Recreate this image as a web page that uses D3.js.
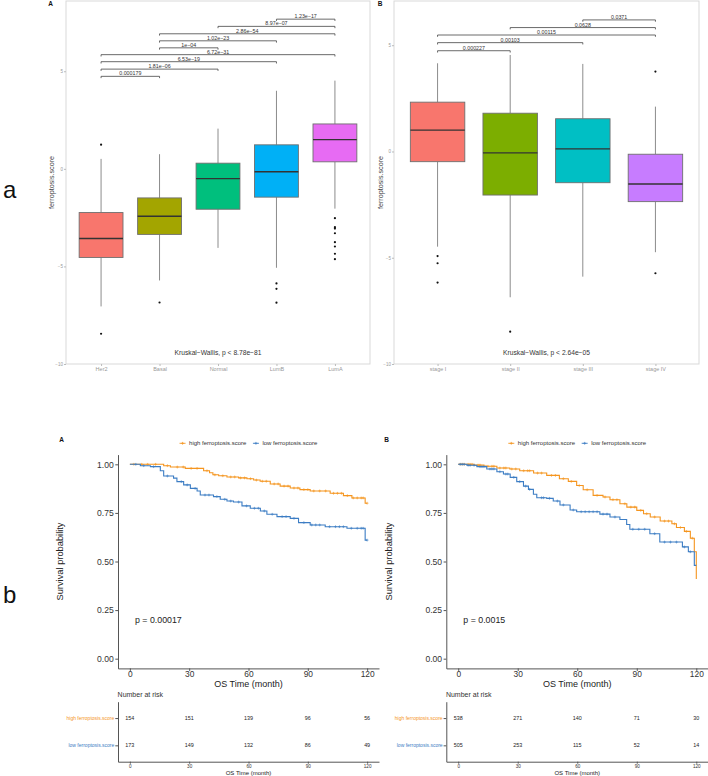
<!DOCTYPE html>
<html><head><meta charset="utf-8">
<script src="https://cdn.jsdelivr.net/npm/d3@7"></script>
<style>body{margin:0;background:#fff}svg{display:block}</style>
</head><body>
<svg id="c" width="708" height="776"></svg>
<script>
// ---------------- DATA ----------------
// Panel a-A: ferroptosis.score by PAM50 subtype
const subtypes = ["Her2","Basal","Normal","LumB","LumA"];
const subtypeColors = ["#F8766D","#A3A500","#00BF7D","#00B0F6","#E76BF3"];
const subtypeWhiskerLow = [-7.05,-5.72,-4.05,-5.07,-2.04];
const subtypeQ1 = [-4.54,-3.36,-2.07,-1.45,0.36];
const subtypeMedian = [-3.57,-2.43,-0.50,-0.15,1.50];
const subtypeQ3 = [-2.24,-1.49,0.29,1.23,2.30];
const subtypeWhiskerHigh = [0.51,0.75,2.06,4.00,4.52];
const subtypeOutliers = [[1.24,-8.45],[-6.85],[],[-5.87,-6.15,-6.86],[-2.53,-2.99,-3.06,-3.30,-3.76,-3.98,-4.35,-4.63]];
const subtypeCompFrom = ["LumB","Normal","Basal","Basal","Basal","Her2","Her2","Her2","Her2"];
const subtypeCompTo   = ["LumA","LumA","LumA","LumB","Normal","LumA","LumB","Normal","Basal"];
const subtypeCompY    = [7.67,7.30,6.92,6.56,6.20,5.85,5.49,5.11,4.74];
const subtypeCompP    = ["1.23e−17","8.97e−07","2.86e−54","1.02e−23","1e−04","6.72e−31","6.53e−19","1.81e−06","0.000179"];
const subtypeKW = "Kruskal−Wallis, p < 8.78e−81";

// Panel a-B: ferroptosis.score by stage
const stages = ["stage I","stage II","stage III","stage IV"];
const stageColors = ["#F8766D","#7CAE00","#00BFC4","#C77CFF"];
const stageWhiskerLow = [-4.48,-6.86,-5.89,-4.74];
const stageQ1 = [-0.48,-2.05,-1.47,-2.36];
const stageMedian = [1.00,-0.07,0.12,-1.53];
const stageQ3 = [2.32,1.80,1.54,-0.13];
const stageWhiskerHigh = [4.15,4.54,4.12,2.11];
const stageOutliers = [[-4.92,-5.26,-6.17],[-8.48],[],[3.76,-5.73]];
const stageCompFrom = ["stage III","stage II","stage I","stage I","stage I"];
const stageCompTo   = ["stage IV","stage IV","stage IV","stage III","stage II"];
const stageCompY    = [6.19,5.83,5.48,5.12,4.74];
const stageCompP    = ["0.0371","0.0628","0.00115","0.00103","0.000227"];
const stageKW = "Kruskal−Wallis, p < 2.64e−05";

const scoreTicks = [-10,-5,0,5];

// Panel b-A: Kaplan-Meier (cohort A)
const kmA_highTime = [0,17.1,20.5,28,37.3,40.3,42,44.9,49.1,55,59.2,62.6,65.9,71,76,81.1,86,91.2,101.3,108,112.3,119];
const kmA_highSurv = [1,0.993,0.986,0.979,0.967,0.957,0.946,0.941,0.935,0.930,0.926,0.919,0.913,0.899,0.888,0.878,0.870,0.863,0.851,0.839,0.827,0.800];
const kmA_highCensor = [2,6,9,13,19,24,27,31,34,39,43,47,51,53,56,58,61,64,67,69,73,75,78,80,83,85,88,90,93,96,99,103,105,107,110,113,115,117,118,120];
const kmA_lowTime = [0,5.3,10.4,15.4,17.1,22.1,23.8,27.2,30.6,34,35.6,42.3,45.7,49.1,52.4,56.7,60.9,66,69.3,74.4,81.1,85.3,91.2,98.8,109.8,119];
const kmA_lowSurv = [1,0.993,0.988,0.967,0.940,0.929,0.911,0.894,0.876,0.863,0.842,0.834,0.820,0.811,0.806,0.786,0.774,0.760,0.743,0.731,0.722,0.700,0.688,0.679,0.671,0.610];
const kmA_lowCensor = [3,7,12,19,26,29,33,38,40,44,48,51,55,59,63,65,68,72,77,79,83,88,92,94,96,101,104,106,108,112,115,117,118,120];
const kmA_p = "p = 0.00017";

// Panel b-B: Kaplan-Meier (cohort B)
const kmB_highTime = [0,8,13,19.5,26,31,38,44.6,51,55.5,59.7,63,68,73,76.5,81.5,85,90,93.4,96.8,101.8,107.7,110,114,117,119,120];
const kmB_highSurv = [1,0.996,0.990,0.981,0.976,0.967,0.955,0.943,0.926,0.912,0.891,0.869,0.840,0.832,0.818,0.797,0.780,0.763,0.746,0.729,0.708,0.694,0.675,0.655,0.620,0.550,0.410];
const kmB_highCensor = [1,2,3,5,6,7,10,11,14,15,17,18,21,23,24,27,29,33,35,36,40,42,47,49,53,57,61,65,70,74,78,80,84,87,89,92,95,99,104,106,109,112,115,118];
const kmB_lowTime = [0,4.4,9.4,14.4,19.5,22.8,26.2,29.5,32.9,35.4,37.9,39.6,44.6,47.9,51.3,56.4,59.7,71.4,76.5,81.5,84.9,86.5,96.6,101.6,113,116,119];
const kmB_lowSurv = [1,0.995,0.988,0.976,0.962,0.950,0.933,0.911,0.888,0.871,0.846,0.828,0.825,0.811,0.791,0.765,0.756,0.744,0.729,0.716,0.690,0.666,0.643,0.600,0.575,0.550,0.480];
const kmB_lowCensor = [1,2,3,5,6,8,11,12,13,16,17,18,21,24,25,28,31,34,36,42,43,46,50,53,58,62,64,66,68,70,73,75,79,88,91,94,99,104,107,110,114,117];
const kmB_p = "p = 0.0015";

const groupNames = ["high ferroptosis.score","low ferroptosis.score"];
const groupColors = ["#F5951F","#3C7DC4"];
const timeTicks = [0,30,60,90,120];
const survTicks = [0,0.25,0.5,0.75,1];
const riskA_high = [154,151,139,96,56];
const riskA_low  = [173,149,132,86,49];
const riskB_high = [538,271,140,71,30];
const riskB_low  = [505,253,115,52,14];

// ---------------- DRAWING ----------------
const FONT = '"Liberation Sans", Arial, Helvetica, sans-serif';
const svg = d3.select("#c").attr("font-family", FONT);

function styleAxis(g, o) {
  g.attr("font-family", FONT).attr("font-size", null);
  g.selectAll(".tick line").attr("stroke", o.tickColor);
  g.selectAll(".tick text").attr("font-size", o.fontSize).attr("fill", o.textColor);
  if (o.noDomain) g.select(".domain").remove();
  else g.select(".domain").attr("stroke", o.lineColor).attr("stroke-width", o.lineWidth || 1);
}

function drawBoxPanel(c) {
  const g = svg.append("g");
  const x = d3.scalePoint().domain(c.cats).range([c.left, c.right]).padding(0.6);
  const y = d3.scaleLinear().domain(c.yDomain).range([c.bottom, c.top]);
  g.append("rect").attr("x", c.left).attr("y", c.top).attr("width", c.right - c.left)
    .attr("height", c.bottom - c.top).attr("fill", "none").attr("stroke", "#d9d9d9").attr("stroke-width", 1);
  const ya = g.append("g").attr("transform", `translate(${c.left},0)`)
    .call(d3.axisLeft(y).tickValues(scoreTicks).tickSize(2).tickPadding(1));
  styleAxis(ya, {tickColor: "#bbb", fontSize: 4.5, textColor: "#999", noDomain: true});
  const xa = g.append("g").attr("transform", `translate(0,${c.bottom})`)
    .call(d3.axisBottom(x).tickSize(2).tickPadding(1.5));
  styleAxis(xa, {tickColor: "#bbb", fontSize: 5.5, textColor: "#999", noDomain: true});
  g.append("text").attr("transform", `translate(${c.titleX},${(c.top + c.bottom) / 2}) rotate(-90)`)
    .attr("text-anchor", "middle").attr("dominant-baseline", "central")
    .attr("font-size", 7.2).attr("fill", "#444").text("ferroptosis.score");
  g.append("text").attr("x", c.labelX).attr("y", 6).attr("text-anchor", "middle")
    .attr("font-size", 6.5).attr("font-weight", "bold").attr("fill", "#111").text(c.label);
  const w = x.step() * 0.75;
  c.cats.forEach((cat, i) => {
    const cx = x(cat);
    g.append("line").attr("x1", cx).attr("x2", cx).attr("y1", y(c.hi[i])).attr("y2", y(c.q3[i]))
      .attr("stroke", "#8c8c8c").attr("stroke-width", 1);
    g.append("line").attr("x1", cx).attr("x2", cx).attr("y1", y(c.q1[i])).attr("y2", y(c.lo[i]))
      .attr("stroke", "#8c8c8c").attr("stroke-width", 1);
    g.append("rect").attr("x", cx - w / 2).attr("width", w).attr("y", y(c.q3[i]))
      .attr("height", y(c.q1[i]) - y(c.q3[i])).attr("fill", c.colors[i])
      .attr("stroke", "#6f6f6f").attr("stroke-width", 0.9);
    g.append("line").attr("x1", cx - w / 2).attr("x2", cx + w / 2).attr("y1", y(c.med[i])).attr("y2", y(c.med[i]))
      .attr("stroke", "#333").attr("stroke-width", 1.3);
    c.out[i].forEach(v => g.append("circle").attr("cx", cx).attr("cy", y(v)).attr("r", 1.1).attr("fill", "#111"));
  });
  c.compFrom.forEach((f, i) => {
    const x1 = x(f), x2 = x(c.compTo[i]), yy = y(c.compY[i]);
    g.append("path").attr("d", `M${x1},${yy + 1.8}V${yy}H${x2}V${yy + 1.8}`)
      .attr("fill", "none").attr("stroke", "#444").attr("stroke-width", 0.8);
    g.append("text").attr("x", (x1 + x2) / 2).attr("y", yy - 0.9).attr("text-anchor", "middle")
      .attr("font-size", 5.3).attr("fill", "#333").text(c.compP[i]);
  });
  g.append("text").attr("x", (c.left + c.right) / 2).attr("y", c.bottom - 11.5)
    .attr("text-anchor", "middle").attr("dominant-baseline", "central")
    .attr("font-size", 6.7).attr("fill", "#333").text(c.kw);
}

drawBoxPanel({cats: subtypes, colors: subtypeColors, lo: subtypeWhiskerLow, q1: subtypeQ1, med: subtypeMedian,
  q3: subtypeQ3, hi: subtypeWhiskerHigh, out: subtypeOutliers, compFrom: subtypeCompFrom, compTo: subtypeCompTo,
  compY: subtypeCompY, compP: subtypeCompP, kw: subtypeKW, left: 66, right: 370, top: 1, bottom: 364,
  yDomain: [-10, 8.6], titleX: 51.7, label: "A", labelX: 50.7});
drawBoxPanel({cats: stages, colors: stageColors, lo: stageWhiskerLow, q1: stageQ1, med: stageMedian,
  q3: stageQ3, hi: stageWhiskerHigh, out: stageOutliers, compFrom: stageCompFrom, compTo: stageCompTo,
  compY: stageCompY, compP: stageCompP, kw: stageKW, left: 394, right: 699, top: 1, bottom: 364,
  yDomain: [-10, 7.08], titleX: 380, label: "B", labelX: 380});

function stepValue(times, surv, t) {
  let s = surv[0];
  for (let i = 0; i < times.length; i++) if (times[i] <= t) s = surv[i];
  return s;
}

function drawKM(c) {
  const g = svg.append("g");
  const x = d3.scaleLinear().domain([-6, 126]).range([c.left, c.right]);
  const y = d3.scaleLinear().domain([-0.05, 1.05]).range([668.4, 454.6]);
  const ya = g.append("g").attr("transform", `translate(${c.left},0)`)
    .call(d3.axisLeft(y).tickValues(survTicks).tickFormat(d3.format(".2f")).tickSize(2.7).tickSizeOuter(0).tickPadding(1.5));
  styleAxis(ya, {tickColor: "#555", fontSize: 8.6, textColor: "#333", lineColor: "#555", lineWidth: 1});
  const xa = g.append("g").attr("transform", `translate(0,668.4)`)
    .call(d3.axisBottom(x).tickValues(timeTicks).tickSize(2.5).tickSizeOuter(0).tickPadding(0));
  styleAxis(xa, {tickColor: "#555", fontSize: 8.4, textColor: "#333", lineColor: "#555", lineWidth: 1});
  g.append("text").attr("x", x(60)).attr("y", 686.5).attr("text-anchor", "middle")
    .attr("font-size", 9).attr("fill", "#222").text("OS Time (month)");
  g.append("text").attr("transform", `translate(${c.left - 57.7},${(454.6 + 668.4) / 2}) rotate(-90)`)
    .attr("text-anchor", "middle").attr("dominant-baseline", "central")
    .attr("font-size", 9.3).attr("fill", "#222").text("Survival probability");
  g.append("text").attr("x", c.labelX).attr("y", 441.5).attr("text-anchor", "middle")
    .attr("font-size", 6.5).attr("font-weight", "bold").attr("fill", "#111").text(c.label);
  const line = d3.line().x(d => x(d[0])).y(d => y(d[1])).curve(d3.curveStepAfter);
  c.series.forEach((s, k) => {
    const pts = s.time.map((t, i) => [t, s.surv[i]]);
    pts.push([120, s.surv[s.surv.length - 1]]);
    g.append("path").attr("d", line(pts)).attr("fill", "none").attr("stroke", groupColors[k]).attr("stroke-width", 1.1);
    const cp = d3.path();
    s.cens.forEach(t => {
      const px = x(t), py = y(stepValue(s.time, s.surv, t));
      cp.moveTo(px - 1.4, py); cp.lineTo(px + 1.4, py);
      cp.moveTo(px, py - 1.4); cp.lineTo(px, py + 1.4);
    });
    g.append("path").attr("d", cp.toString()).attr("fill", "none").attr("stroke", groupColors[k]).attr("stroke-width", 0.6);
  });
  g.append("text").attr("x", x(2.6)).attr("y", y(0.2)).attr("dominant-baseline", "central")
    .attr("font-size", 8.8).attr("fill", "#222").text(c.p);
  const lg = g.append("g");
  let cur = 0;
  groupNames.forEach((n, k) => {
    const item = lg.append("g").attr("transform", `translate(${cur},0)`);
    item.append("line").attr("x1", 0).attr("x2", 6).attr("y1", 0).attr("y2", 0).attr("stroke", groupColors[k]).attr("stroke-width", 0.9);
    item.append("path").attr("d", "M1.6,0H4.4M3,-1.4V1.4").attr("stroke", groupColors[k]).attr("stroke-width", 0.7);
    const t = item.append("text").attr("x", 9.5).attr("y", 0).attr("dominant-baseline", "central")
      .attr("font-size", 6).attr("fill", "#333").text(n);
    cur += 9.5 + t.node().getComputedTextLength() + 6.5;
  });
  const lw = cur - 6.5;
  lg.attr("transform", `translate(${(x(-6) + x(126)) / 2 - lw / 2},443.3)`);
  const ry = d3.scalePoint().domain(groupNames).range([701.7, 761.7]).padding(0.6);
  g.append("text").attr("x", c.left - 0.4).attr("y", 696.8).attr("font-size", 7).attr("fill", "#333").text("Number at risk");
  const rya = g.append("g").attr("transform", `translate(${c.left},0)`)
    .call(d3.axisLeft(ry).tickSize(2.7).tickSizeOuter(0).tickPadding(1));
  styleAxis(rya, {tickColor: "#555", fontSize: 5, textColor: "#333", lineColor: "#555", lineWidth: 1});
  rya.selectAll(".tick text").attr("fill", (d, i) => groupColors[i]);
  const rxa = g.append("g").attr("transform", `translate(0,761.7)`)
    .call(d3.axisBottom(x).tickValues(timeTicks).tickSize(2).tickSizeOuter(0).tickPadding(0.8));
  styleAxis(rxa, {tickColor: "#555", fontSize: 4.6, textColor: "#333", lineColor: "#555", lineWidth: 1});
  g.append("text").attr("x", x(60)).attr("y", 775).attr("text-anchor", "middle")
    .attr("font-size", 6).attr("fill", "#222").text("OS Time (month)");
  [c.riskHigh, c.riskLow].forEach((arr, k) => {
    arr.forEach((v, i) => g.append("text").attr("x", x(timeTicks[i])).attr("y", ry(groupNames[k]))
      .attr("text-anchor", "middle").attr("dominant-baseline", "central")
      .attr("font-size", 5.4).attr("fill", "#222").text(v));
  });
}

drawKM({left: 118, right: 379, label: "A", labelX: 61.5, p: kmA_p,
  series: [{time: kmA_highTime, surv: kmA_highSurv, cens: kmA_highCensor}, {time: kmA_lowTime, surv: kmA_lowSurv, cens: kmA_lowCensor}],
  riskHigh: riskA_high, riskLow: riskA_low});
drawKM({left: 446.3, right: 708.2, label: "B", labelX: 386.7, p: kmB_p,
  series: [{time: kmB_highTime, surv: kmB_highSurv, cens: kmB_highCensor}, {time: kmB_lowTime, surv: kmB_lowSurv, cens: kmB_lowCensor}],
  riskHigh: riskB_high, riskLow: riskB_low});

svg.append("text").attr("x", 3).attr("y", 198).attr("font-size", 24).attr("fill", "#111").text("a");
svg.append("text").attr("x", 3).attr("y", 603).attr("font-size", 24).attr("fill", "#111").text("b");
</script>
</body></html>
